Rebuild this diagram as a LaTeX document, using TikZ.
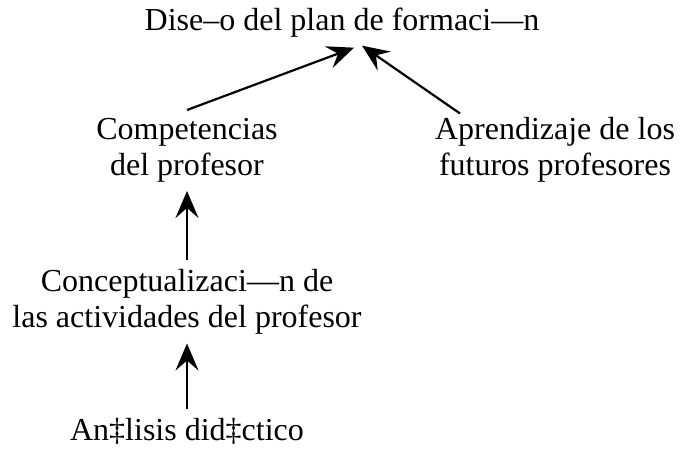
\documentclass[tikz,border=0pt]{standalone}
\usepackage{fontspec}
\setmainfont{Liberation Serif}
\usetikzlibrary{arrows.meta}

\tikzset{
  lbl/.style={align=center, inner sep=0pt, outer sep=9pt, font=\fontsize{32}{36}\selectfont},
  arr/.style={-{Stealth[length=27pt, width=23pt, inset=10pt]}, line width=2.2pt}
}

\begin{document}
\begin{tikzpicture}[x=1pt, y=1pt]
    \useasboundingbox (0,0) rectangle (680,448);

    % Nodes
    \node[lbl] (plan) at (342,425) {Dise–o del plan de formaci—n};
    \node[lbl] (comp) at (187,298) {Competencias\\del profesor};
    \node[lbl] (apren) at (555,298) {Aprendizaje de los\\futuros profesores};
    \node[lbl] (concep) at (187,146) {Conceptualizaci—n de\\las actividades del profesor};
    \node[lbl] (analisis) at (187,17) {An‡lisis did‡ctico};

    % Arrows to the plan
    \draw[arr] ([yshift=-1pt]comp.north) -- ([xshift=12pt, yshift=-1pt]plan.south);
    \draw[arr] ([xshift=-95pt, yshift=-5pt]apren.north) -- ([xshift=20pt, yshift=1pt]plan.south);

    % Vertical arrows
    \draw[arr] (concep) -- (comp);
    \draw[arr] (analisis) -- (concep);
\end{tikzpicture}
\end{document}
